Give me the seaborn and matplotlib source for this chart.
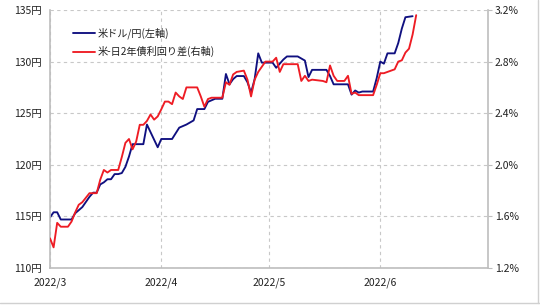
import matplotlib
matplotlib.use("Agg")
import matplotlib.pyplot as plt
import seaborn as sns
import pandas as pd

# ---- data ----
usdjpy_dates = ["03-01","03-02","03-03","03-04","03-07","03-08","03-10","03-12","03-13","03-14",
                "03-15","03-16","03-17","03-18","03-19","03-20","03-21","03-22","03-23","03-24",
                "03-27","03-28","03-31","04-01","04-04","04-06","04-08","04-10","04-11","04-13",
                "04-14","04-16","04-18","04-19","04-20","04-21","04-22","04-24","04-25","04-26",
                "04-27","04-28","04-29","05-02","05-03","05-05","05-06","05-09","05-10","05-11",
                "05-12","05-13","05-17","05-18","05-19","05-23","05-24","05-25","05-26","05-27",
                "05-30","05-31","06-01","06-02","06-03","06-05","06-06","06-07","06-08","06-10"]
usdjpy = [114.9,115.4,115.4,114.7,114.7,115.3,115.9,116.9,117.3,117.3,
          118.1,118.3,118.6,118.6,119.1,119.1,119.2,119.8,120.8,122.0,
          122.0,123.9,121.7,122.5,122.5,123.6,123.9,124.3,125.4,125.4,
          126.1,126.4,126.4,128.8,127.8,128.3,128.6,128.6,128.0,127.0,
          128.3,130.8,129.9,129.9,129.4,130.2,130.5,130.5,130.3,130.1,
          128.5,129.2,129.2,128.6,127.8,127.8,126.8,127.2,127.0,127.1,
          127.1,128.4,130.0,129.8,130.8,130.8,131.8,133.2,134.3,134.4]

spread_dates = ["03-01","03-02","03-03","03-04","03-06","03-07","03-08","03-09","03-10","03-11",
                "03-12","03-14","03-15","03-16","03-17","03-18","03-20","03-21","03-22","03-23",
                "03-24","03-25","03-26","03-27","03-28","03-29","03-30","03-31","04-01","04-02",
                "04-03","04-04","04-05","04-06","04-07","04-08","04-11","04-12","04-13","04-14",
                "04-15","04-18","04-19","04-20","04-21","04-22","04-24","04-25","04-26","04-27",
                "04-28","04-29","04-30","05-02","05-03","05-04","05-05","05-09","05-10","05-11",
                "05-12","05-13","05-16","05-17","05-18","05-19","05-20","05-22","05-23","05-24",
                "05-25","05-26","05-30","05-31","06-01","06-02","06-03","06-05","06-06","06-07",
                "06-08","06-09","06-10","06-11"]
spread = [1.43,1.36,1.55,1.52,1.52,1.56,1.63,1.69,1.71,1.745,
          1.78,1.78,1.885,1.96,1.94,1.96,1.96,2.06,2.17,2.20,
          2.12,2.18,2.31,2.31,2.34,2.39,2.35,2.375,2.43,2.49,
          2.49,2.47,2.56,2.53,2.51,2.60,2.60,2.53,2.45,2.51,
          2.52,2.52,2.64,2.62,2.70,2.72,2.73,2.66,2.53,2.66,
          2.72,2.76,2.80,2.80,2.83,2.72,2.78,2.78,2.65,2.69,
          2.65,2.66,2.65,2.64,2.77,2.69,2.65,2.65,2.69,2.55,
          2.56,2.54,2.54,2.62,2.71,2.71,2.72,2.74,2.80,2.81,
          2.87,2.90,3.01,3.16]

left_ticks = [110, 115, 120, 125, 130, 135]
right_ticks = [1.2, 1.6, 2.0, 2.4, 2.8, 3.2]
month_ticks = ["2022-03-01", "2022-04-01", "2022-05-01", "2022-06-01"]
month_labels = ["2022/3", "2022/4", "2022/5", "2022/6"]
label_usdjpy = "米ドル/円(左軸)"
label_spread = "米-日2年債利回り差(右軸)"

df1 = pd.DataFrame({"date": pd.to_datetime(["2022-" + d for d in usdjpy_dates]), "v": usdjpy})
df2 = pd.DataFrame({"date": pd.to_datetime(["2022-" + d for d in spread_dates]), "v": spread})

sns.set_style("white")
plt.rcParams["font.family"] = ["Noto Sans CJK JP", "DejaVu Sans"]

fig = plt.figure(figsize=(5.4, 3.05), dpi=100)
ax = fig.add_axes([50/540, 1-268/305, 438/540, 258/305])
ax2 = ax.twinx()

blue = "#101080"
red = "#ee1c24"
grid_c = "#c8c8c8"
spine_c = "#bdbdbd"
txt_c = "#222222"

sns.lineplot(data=df1, x="date", y="v", ax=ax, color=blue, linewidth=1.35, label=label_usdjpy, legend=False)
sns.lineplot(data=df2, x="date", y="v", ax=ax2, color=red, linewidth=1.35, label=label_spread, legend=False)

ax.set_xlim(pd.Timestamp("2022-03-01"), pd.Timestamp("2022-07-01"))
ax.set_ylim(110, 135)
ax2.set_ylim(1.2, 3.2)

ax.set_yticks(left_ticks)
ax.set_yticklabels([f"{t}円" for t in left_ticks])
ax2.set_yticks(right_ticks)
ax2.set_yticklabels([f"{t:.1f}%" for t in right_ticks])
ax.set_xticks(pd.to_datetime(month_ticks))
ax.set_xticklabels(month_labels)

ax.set_xlabel("")
ax.set_ylabel("")
ax2.set_ylabel("")

for a in (ax, ax2):
    a.tick_params(axis="both", labelsize=7.5, colors=txt_c, length=3, width=0.8, color=spine_c, pad=2)
    for s in a.spines.values():
        s.set_color(spine_c)
        s.set_linewidth(1.2)
    a.spines["top"].set_visible(False)
ax.tick_params(axis="y", length=0, pad=6)
ax.tick_params(axis="x", length=0, pad=7)
ax2.tick_params(axis="y", length=3, pad=2)
ax2.spines["left"].set_visible(False)
ax2.spines["bottom"].set_visible(False)
ax.spines["right"].set_visible(False)

ax.grid(True, axis="both", color=grid_c, linestyle=(0, (3, 3)), linewidth=0.8)
ax.set_axisbelow(True)
ax2.grid(False)

h1, l1 = ax.get_legend_handles_labels()
h2, l2 = ax2.get_legend_handles_labels()
leg = ax2.legend(h1 + h2, l1 + l2, loc="upper left", bbox_to_anchor=(0.053, 0.933),
                 frameon=False, fontsize=7.3, handlelength=2.1, handletextpad=0.3,
                 labelspacing=0.75, borderpad=0, borderaxespad=0)
for t in leg.get_texts():
    t.set_color(txt_c)

# outer frame line at bottom/right of the figure
fig.add_artist(plt.Line2D([0, 1], [2/305, 2/305], transform=fig.transFigure, color="#d0d0d0", lw=1))
fig.add_artist(plt.Line2D([538/540, 538/540], [2/305, 1], transform=fig.transFigure, color="#d0d0d0", lw=1))

fig.savefig("out.png", dpi=100)
